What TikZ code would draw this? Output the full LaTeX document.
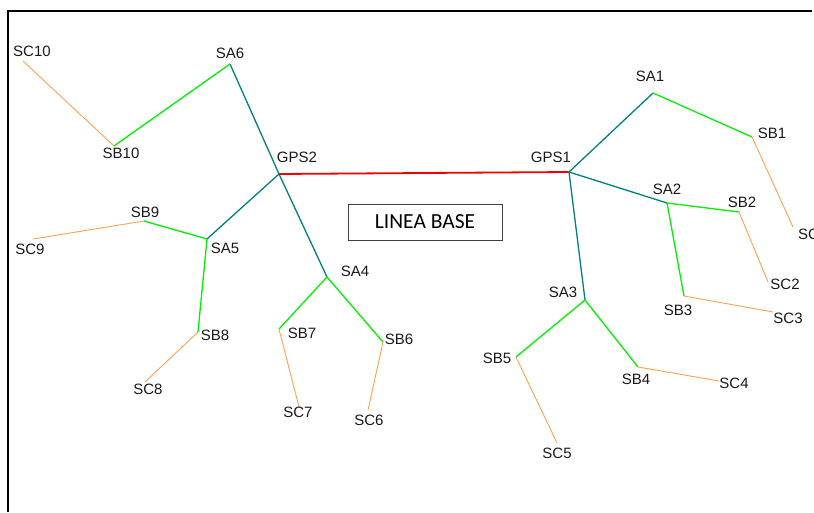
\documentclass[tikz,border=0pt]{standalone}
\usepackage{fontspec}
\setmainfont{Liberation Sans}
\newfontfamily\boxfont{Carlito}
\definecolor{tealc}{RGB}{0,128,128}
\definecolor{greenc}{RGB}{0,240,0}
\definecolor{orangec}{RGB}{255,160,80}
\definecolor{redc}{RGB}{240,0,0}
\begin{document}
\begin{tikzpicture}[x=1pt,y=-1pt,
  lab/.style={font=\fontsize{15}{18}\selectfont, inner sep=0pt, text=black!90},
  lA/.style={draw=tealc, line width=1.3pt},
  lB/.style={draw=greenc, line width=1.3pt},
  lC/.style={draw=orangec, line width=0.9pt},
  lR/.style={draw=redc, line width=1.8pt},
  frame/.style={draw=black, line width=1.4pt}]
\useasboundingbox (0,0) rectangle (814,512);
% frame
\coordinate (f1) at (8,512);
\coordinate (f2) at (8,11);
\coordinate (f3) at (812,11);
\draw[frame] (f1) -- (f2) -- (f3);
% points
\coordinate (pGPS2) at (279,174);
\coordinate (pGPS1) at (569,172);
\coordinate (pSA1) at (653,93);
\coordinate (pSB1) at (752,137);
\coordinate (pSC1) at (793,227);
\coordinate (pSA2) at (667,203);
\coordinate (pSB2) at (739,212);
\coordinate (pSC2) at (768,282);
\coordinate (pSB3) at (684,296);
\coordinate (pSC3) at (773,312);
\coordinate (pSA3) at (585,300);
\coordinate (pSB5) at (516,357);
\coordinate (pSC5) at (557,443);
\coordinate (pSB4) at (638,367);
\coordinate (pSC4) at (719,381);
\coordinate (pSA6) at (230,64);
\coordinate (pSB10) at (114,146);
\coordinate (pSC10) at (23,61);
\coordinate (pSA5) at (207,239);
\coordinate (pSB9) at (144,221);
\coordinate (pSC9) at (33,239);
\coordinate (pSB8) at (198,332);
\coordinate (pSC8) at (145,382);
\coordinate (pSA4) at (327,277);
\coordinate (pSB7) at (279,329);
\coordinate (pSC7) at (299,407);
\coordinate (pSB6) at (383,342);
\coordinate (pSC6) at (368,410);
% connectors
\draw[lR] (pGPS2) -- (pGPS1);
\draw[lA] (pGPS1) -- (pSA1);
\draw[lA] (pGPS1) -- (pSA2);
\draw[lA] (pGPS1) -- (pSA3);
\draw[lA] (pSA6) -- (pGPS2);
\draw[lA] (pGPS2) -- (pSA4);
\draw[lA] (pGPS2) -- (pSA5);
\draw[lB] (pSA1) -- (pSB1);
\draw[lB] (pSA2) -- (pSB2);
\draw[lB] (pSA2) -- (pSB3);
\draw[lB] (pSA3) -- (pSB5);
\draw[lB] (pSA3) -- (pSB4);
\draw[lB] (pSA6) -- (pSB10);
\draw[lB] (pSA5) -- (pSB9);
\draw[lB] (pSA5) -- (pSB8);
\draw[lB] (pSA4) -- (pSB7);
\draw[lB] (pSA4) -- (pSB6);
\draw[lC] (pSB1) -- (pSC1);
\draw[lC] (pSB2) -- (pSC2);
\draw[lC] (pSB3) -- (pSC3);
\draw[lC] (pSB5) -- (pSC5);
\draw[lC] (pSB4) -- (pSC4);
\draw[lC] (pSB10) -- (pSC10);
\draw[lC] (pSB9) -- (pSC9);
\draw[lC] (pSB8) -- (pSC8);
\draw[lC] (pSB7) -- (pSC7);
\draw[lC] (pSB6) -- (pSC6);
% labels
\node[lab] (GPS2) at (297,157) {GPS2};
\node[lab] (GPS1) at (551,157) {GPS1};
\node[lab] (SA1) at (650,76) {SA1};
\node[lab] (SB1) at (772,133) {SB1};
\node[lab, anchor=west] (SC1) at (798,234) {SC1};
\node[lab] (SA2) at (667,189) {SA2};
\node[lab] (SB2) at (742,202) {SB2};
\node[lab] (SC2) at (785,284) {SC2};
\node[lab] (SB3) at (678,310) {SB3};
\node[lab] (SC3) at (788,318) {SC3};
\node[lab] (SA3) at (563,292) {SA3};
\node[lab] (SB5) at (497,358) {SB5};
\node[lab] (SC5) at (557,453) {SC5};
\node[lab] (SB4) at (636,379) {SB4};
\node[lab] (SC4) at (734,383) {SC4};
\node[lab] (SA6) at (230,53) {SA6};
\node[lab] (SB10) at (121,153) {SB10};
\node[lab] (SC10) at (32,51) {SC10};
\node[lab] (SA5) at (225,248) {SA5};
\node[lab] (SB9) at (145,212) {SB9};
\node[lab] (SC9) at (30,249) {SC9};
\node[lab] (SB8) at (215,335) {SB8};
\node[lab] (SC8) at (148,389) {SC8};
\node[lab] (SA4) at (355,271) {SA4};
\node[lab] (SB7) at (302,333) {SB7};
\node[lab] (SC7) at (298,412) {SC7};
\node[lab] (SB6) at (399,339) {SB6};
\node[lab] (SC6) at (369,420) {SC6};
% base box
\node[draw=black!75, line width=0.9pt, minimum width=154pt, minimum height=36pt, inner sep=0pt,
  font=\boxfont\fontsize{21.5}{24}\selectfont] (base) at (425,222) {LINEA BASE};
\end{tikzpicture}
\end{document}
